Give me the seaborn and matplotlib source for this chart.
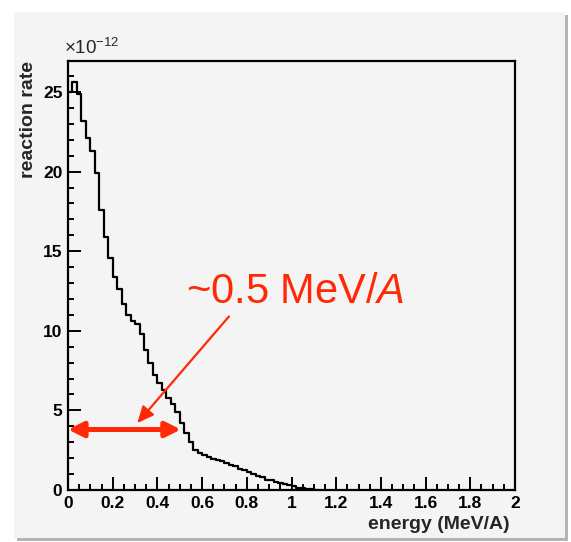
import matplotlib
matplotlib.use("Agg")
import matplotlib.pyplot as plt
from matplotlib.patches import Rectangle
from matplotlib.ticker import MultipleLocator
import numpy as np
import pandas as pd
import seaborn as sns

# histogram contents, bin width 0.02 MeV/A starting at 0, in units of 1e-12
BIN_WIDTH = 0.02
RATE_E12 = [
    25.0, 25.6, 24.9, 23.2, 22.1, 21.3, 19.9, 17.6, 15.9, 14.6,
    13.4, 12.6, 11.7, 11.0, 10.6, 10.4, 9.8, 8.8, 8.0, 7.2,
    6.7, 6.3, 5.8, 5.4, 4.9, 4.2, 3.6, 3.0, 2.5, 2.3,
    2.2, 2.05, 1.95, 1.9, 1.8, 1.7, 1.6, 1.5, 1.35, 1.25,
    1.1, 1.0, 0.9, 0.8, 0.65, 0.6, 0.5, 0.45, 0.35, 0.3,
    0.25, 0.15, 0.12, 0.08, 0.05, 0.03,
]
X_TICKS = [0, 0.2, 0.4, 0.6, 0.8, 1, 1.2, 1.4, 1.6, 1.8, 2]
X_TICK_LABELS = ["0", "0.2", "0.4", "0.6", "0.8", "1", "1.2", "1.4", "1.6", "1.8", "2"]
Y_TICKS = [0, 5, 10, 15, 20, 25]

# annotation
WIDTH_Y = 3.8
WIDTH_X = (0.0, 0.505)
NOTE_TEXT = r"~0.5 MeV/$\mathit{A}$"
NOTE_XY = (0.527, 11.72)
POINTER_FROM = (0.72, 10.9)
POINTER_TO = (0.31, 4.2)

RED = "#ff2a05"
PANEL = "#f4f4f4"

sns.set_style("ticks")
plt.rcParams["font.family"] = ["Liberation Sans", "DejaVu Sans"]
plt.rcParams["mathtext.fontset"] = "custom"
plt.rcParams["mathtext.rm"] = "Liberation Sans"
plt.rcParams["mathtext.it"] = "Liberation Sans:italic"
plt.rcParams["mathtext.default"] = "regular"

W, H = 571, 542
fig = plt.figure(figsize=(W / 100, H / 100), dpi=100, facecolor="white")

# shadowed panel behind the plot
fig.patches.append(Rectangle((17 / W, 1 - 541 / H), 551 / W, 526 / H, transform=fig.transFigure,
                             facecolor="#b4b4b4", edgecolor="none", zorder=-2))
fig.patches.append(Rectangle((14 / W, 1 - 538 / H), 551 / W, 526 / H, transform=fig.transFigure,
                             facecolor=PANEL, edgecolor="none", zorder=-1))

ax = fig.add_axes([68 / W, 1 - 490 / H, 447 / W, 429 / H])
ax.set_facecolor(PANEL)

n_bins = len(RATE_E12)
hist = pd.DataFrame({
    "energy": (np.arange(n_bins) + 0.5) * BIN_WIDTH,
    "rate": RATE_E12,
})
sns.histplot(data=hist, x="energy", weights="rate", binwidth=BIN_WIDTH,
             binrange=(0, n_bins * BIN_WIDTH), element="step", fill=False,
             color="black", linewidth=1.6, ax=ax)

ax.set_xlim(0, 2)
ax.set_ylim(0, 26.95)
ax.set_xticks(X_TICKS)
ax.set_xticklabels(X_TICK_LABELS)
ax.set_yticks(Y_TICKS)
ax.xaxis.set_minor_locator(MultipleLocator(0.05))
ax.yaxis.set_minor_locator(MultipleLocator(1))
ax.tick_params(which="both", direction="in", top=False, right=False, width=1.4, colors="black")
ax.tick_params(which="major", length=9.5, labelsize=12.5, pad=4)
ax.tick_params(which="minor", length=4.5)
for lab in ax.get_xticklabels() + ax.get_yticklabels():
    lab.set_fontweight("bold")
for side in ax.spines.values():
    side.set_linewidth(1.6)
    side.set_color("black")

ax.set_xlabel("energy (MeV/A)", fontsize=14, fontweight="bold", loc="right")
ax.xaxis.set_label_coords(0.989, -0.06)
ax.set_ylabel("reaction rate", fontsize=14, fontweight="bold", loc="top")
ax.yaxis.set_label_coords(-0.069, 1.0)
ax.text(-0.008, 1.006, r"$\times$10$^{-12}$", transform=ax.transAxes, fontsize=13.5,
        ha="left", va="bottom")

# width marker and label
ax.annotate("", xy=(WIDTH_X[0], WIDTH_Y), xytext=(WIDTH_X[1], WIDTH_Y),
            arrowprops=dict(arrowstyle="<|-|>,head_length=9,head_width=4.5", color=RED,
                            lw=3.6, shrinkA=0, shrinkB=0, mutation_scale=1))
ax.annotate("", xy=POINTER_TO, xytext=POINTER_FROM,
            arrowprops=dict(arrowstyle="-|>,head_length=10,head_width=4.5", color=RED,
                            lw=1.6, shrinkA=0, shrinkB=0, mutation_scale=1))
ax.text(NOTE_XY[0], NOTE_XY[1], NOTE_TEXT, color=RED, fontsize=30, ha="left", va="baseline")

fig.savefig("out.png", dpi=100, facecolor=fig.get_facecolor())
